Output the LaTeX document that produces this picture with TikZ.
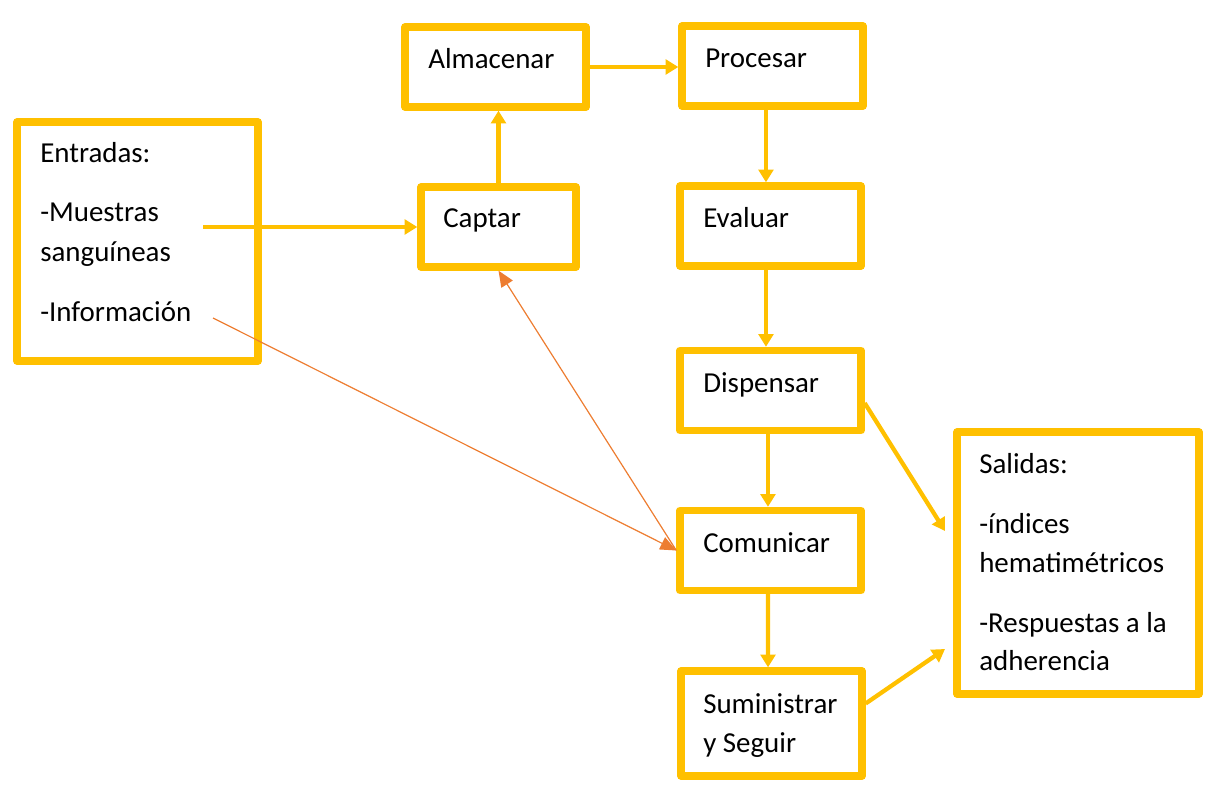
\documentclass[tikz,border=0pt]{standalone}
\usepackage{fontspec}
\setmainfont{Carlito}
\usetikzlibrary{arrows.meta}
\definecolor{oro}{HTML}{FFC000}
\definecolor{naranja}{HTML}{ED7D31}

\begin{document}
\begin{tikzpicture}[x=0.75pt,y=-0.75pt,
    caja/.style={draw=oro,line width=5.5pt,line join=round,inner sep=0pt,minimum width=181*0.75pt,minimum height=80*0.75pt},
    texto/.style={anchor=base west,inner sep=0pt,font=\fontsize{21.7}{26}\selectfont},
    flecha/.style={draw=oro,line width=3.2pt,-{Triangle[length=9.5pt,width=11pt]}},
    flechab/.style={draw=naranja,line width=0.9pt,-{Triangle[length=12pt,width=10pt]}}]
    \useasboundingbox (0,0) rectangle (1227,791);
    \node[caja,minimum width=241*0.75pt,minimum height=239*0.75pt] (entradas) at (137.5,241.5) {};
    \node[caja] (almacenar) at (495.5,67) {};
    \node[caja] (procesar) at (772.5,66) {};
    \node[caja,minimum width=155*0.75pt] (captar) at (498.5,227) {};
    \node[caja] (evaluar) at (770.5,226) {};
    \node[caja] (dispensar) at (770.5,390.5) {};
    \node[caja] (comunicar) at (770.5,550.5) {};
    \node[caja,minimum height=105*0.75pt] (suministrar) at (771.5,723.5) {};
    \node[caja,minimum width=242*0.75pt,minimum height=262*0.75pt] (salidas) at (1078,563) {};
    \node[texto] (ta) at (40,163) {Entradas:};
    \node[texto] (tb) at (40,222) {-Muestras};
    \node[texto] (tc) at (40,262) {sanguíneas};
    \node[texto] (td) at (40,322) {-Información};
    \node[texto] (te) at (428,69) {Almacenar};
    \node[texto] (tf) at (705,68) {Procesar};
    \node[texto] (tg) at (443,228) {Captar};
    \node[texto] (th) at (703,228) {Evaluar};
    \node[texto] (ti) at (703,392) {Dispensar};
    \node[texto] (tj) at (703,552) {Comunicar};
    \node[texto] (tk) at (703,713) {Suministrar};
    \node[texto] (tl) at (703,752) {y Seguir};
    \node[texto] (tm) at (979,473) {Salidas:};
    \node[texto] (tn) at (979,533) {-índices};
    \node[texto] (to) at (979,572) {hematimétricos};
    \node[texto] (tp) at (979,632) {-Respuestas a la};
    \node[texto] (tq) at (979,670) {adherencia};
    \coordinate (ma) at (203,227);
    \coordinate (mb) at (213,318);
    \coordinate (sa) at (945,531);
    \coordinate (sb) at (945,649);
    \draw[flecha] (ma) -- (captar.west);
    \draw[flecha] (captar.north) -- (captar.north |- almacenar.south);
    \draw[flecha] (almacenar.east) -- (almacenar.east -| procesar.west);
    \draw[flecha] ([xshift=-4.9pt]procesar.south) -- ([xshift=-4.9pt]procesar.south |- evaluar.north);
    \draw[flecha] ([xshift=-3.4pt]evaluar.south) -- ([xshift=-3.4pt]dispensar.north);
    \draw[flecha] ([xshift=-1.9pt]dispensar.south) -- ([xshift=-1.9pt]comunicar.north);
    \draw[flecha] ([xshift=-1.9pt]comunicar.south) -- ([xshift=-2.6pt]suministrar.north);
    \draw[flecha] ([yshift=-9.4pt]dispensar.east) -- (sa);
    \draw[flecha] ([yshift=15pt]suministrar.east) -- (sb);
    \draw[flechab] (mb) -- (comunicar.west);
    \draw[flechab] (comunicar.west) -- (captar.south);
  \end{tikzpicture}
\end{document}
